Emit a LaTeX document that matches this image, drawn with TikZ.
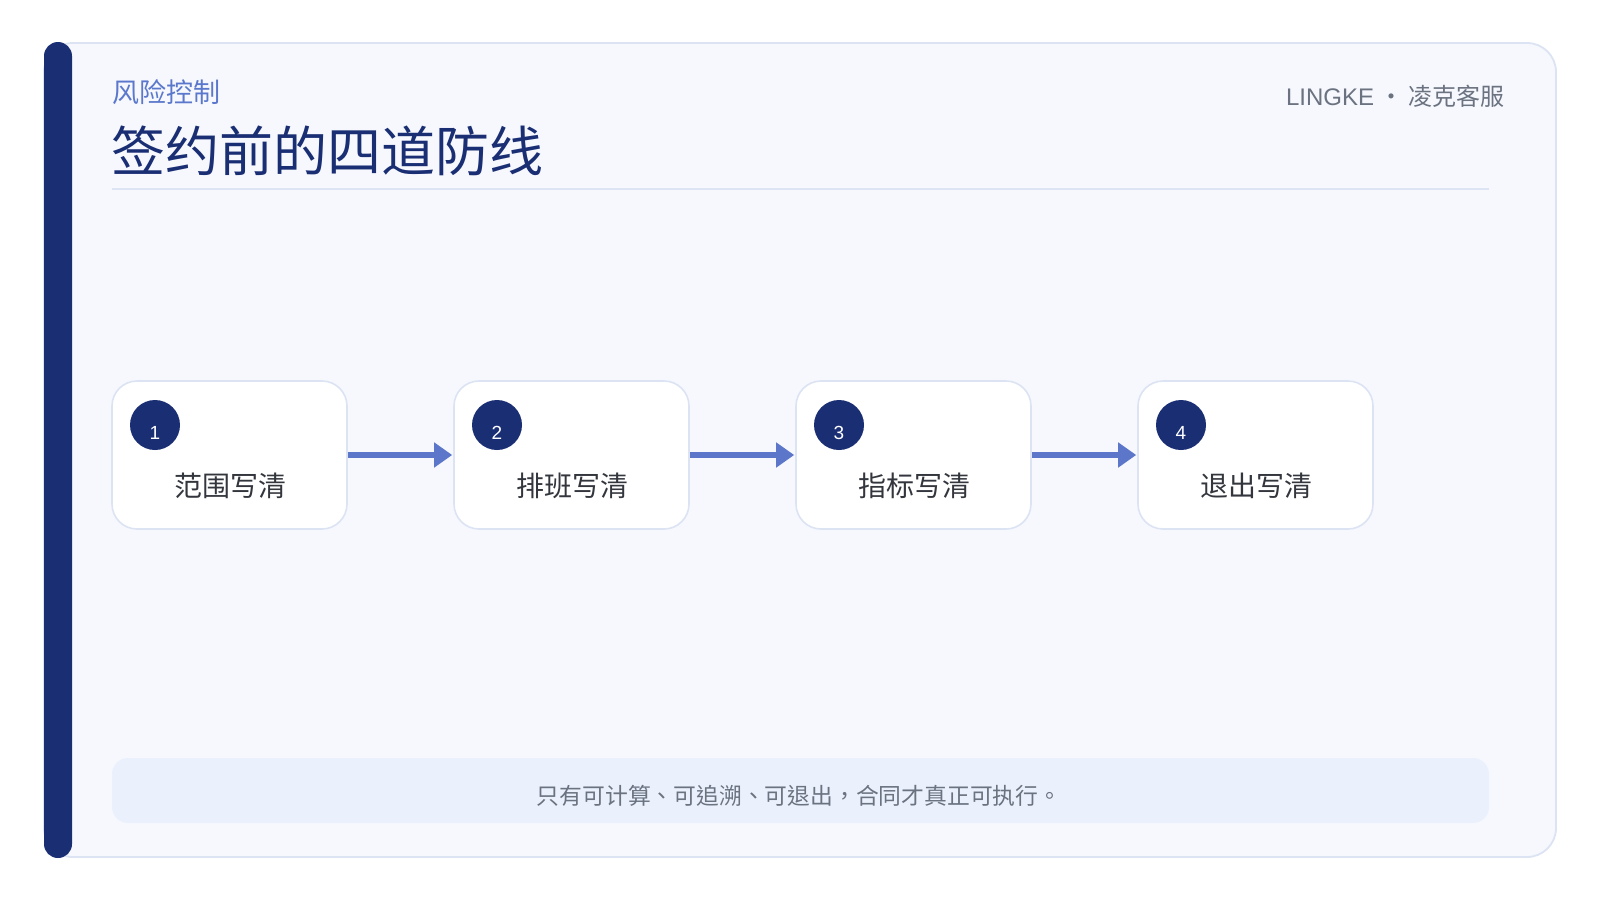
\documentclass[tikz,border=0pt]{standalone}
\usepackage{fontspec}
\setmainfont{Noto Sans CJK SC}
\newfontfamily\tcfont{Noto Sans CJK TC}
\newfontfamily\latinfont{Liberation Sans}
\usetikzlibrary{arrows.meta}
\definecolor{navy}{HTML}{1A2E74}
\definecolor{subblue}{HTML}{5B78CC}
\definecolor{arrowblue}{HTML}{5C77C9}
\definecolor{cardfill}{HTML}{F6F8FE}
\definecolor{cardborder}{HTML}{DCE3F2}
\definecolor{sepcol}{HTML}{DDE4F3}
\definecolor{graytext}{HTML}{6B7280}
\definecolor{bannerfill}{HTML}{EAF1FD}
\definecolor{labeltext}{HTML}{33363D}
\newcommand{\fs}[1]{\fontsize{#1}{#1}\selectfont}
\tikzset{
  stepbox/.style={draw=cardborder, line width=1.6pt, fill=white, rounded corners=25pt,
    minimum width=235pt, minimum height=148pt, inner sep=0pt},
  numcirc/.style={circle, fill=navy, minimum size=50pt, inner sep=0pt},
  numtxt/.style={text=white, font=\latinfont\fs{19pt}, inner sep=0pt},
  steplabel/.style={text=labeltext, font=\fs{28pt}, inner sep=0pt},
  flowarrow/.style={draw=arrowblue, line width=5.5pt, -{Triangle[length=18pt,width=24pt]}, shorten >=1pt},
  banner/.style={fill=bannerfill, rounded corners=16pt, minimum width=1377pt, minimum height=65pt, inner sep=0pt},
}
\begin{document}
\begin{tikzpicture}[x=1pt,y=-1pt]
\useasboundingbox (0,0) rectangle (1600,900);
\fill[white] (0,0) rectangle (1600,900);
% card
\draw[draw=cardborder, line width=1.8pt, fill=cardfill, rounded corners=29pt] (44,43) rectangle (1556,857);
\fill[navy, rounded corners=14pt] (44,42) rectangle (72,858);
% header
\node[anchor=west, inner sep=0pt, text=subblue, font=\fs{27pt}] (sub) at (112,92) {风险控制};
\node[anchor=west, inner sep=0pt, text=navy, font=\fs{54pt}] (title) at (111,151) {签约前的四道防线};
\node[anchor=east, inner sep=0pt, text=graytext, font=\fs{24pt}] (brand) at (1505,96) {{\latinfont LINGKE} · 凌克客服};
\draw[sepcol, line width=1.6pt] (112,189) -- (1489,189);
% steps
\node[stepbox] (b1) at (229.5,455) {};
\node[stepbox] (b2) at (571.5,455) {};
\node[stepbox] (b3) at (913.5,455) {};
\node[stepbox] (b4) at (1255.5,455) {};
\foreach \i/\t in {1/范围写清,2/排班写清,3/指标写清,4/退出写清}{
  \node[numcirc] (c\i) at ([xshift=-74.5pt,yshift=30pt]b\i.center) {};
  \node[numtxt] (n\i) at ([yshift=-8pt]c\i.center) {\i};
  \node[steplabel] (l\i) at ([xshift=1pt,yshift=-31pt]b\i.center) {\t};
}
\draw[flowarrow] (b1.east) -- (b2.west);
\draw[flowarrow] (b2.east) -- (b3.west);
\draw[flowarrow] (b3.east) -- (b4.west);
% banner
\node[banner] (note) at (800.5,790.5) {};
\node[inner sep=0pt, text=graytext, font=\tcfont\fs{22.8pt}] (notetxt) at (799,796) {只有可计算、可追溯、可退出，合同才真正可执行。};
\end{tikzpicture}
\end{document}
